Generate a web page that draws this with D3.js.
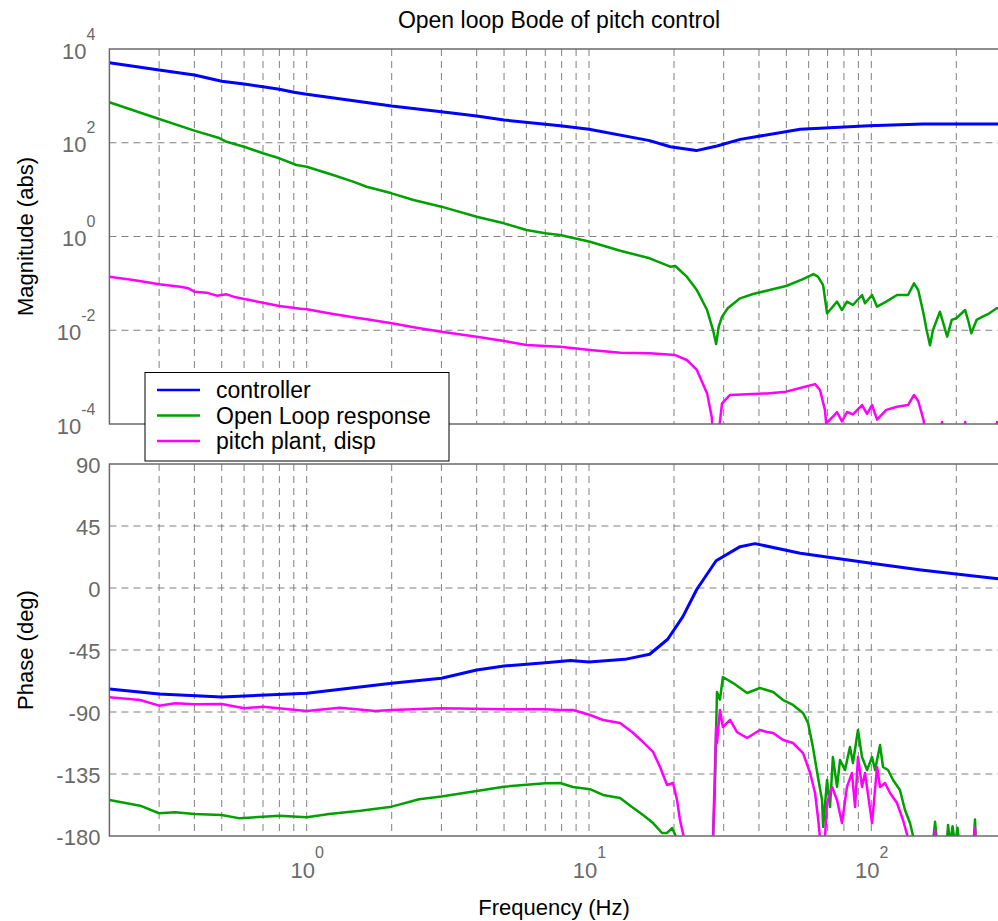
<!DOCTYPE html>
<html>
<head>
<meta charset="utf-8">
<script src="https://d3js.org/d3.v7.min.js"></script>
<style>
  body { margin: 0; background: #fff; }
  text { font-family: "Liberation Sans", Arial, sans-serif; }
</style>
</head>
<body>
<svg id="vis"></svg>
<script>
// values, [frequency Hz, value]
var ctrlMag = [[0.2,5100],[0.3,3560],[0.4,2790],[0.5,2050],[0.6,1790],[0.7,1570],[0.8,1380],[0.9,1190],[1,1080],
  [2,608],[3,460],[4,372],[5,306],[7,247],[7.9,231],[10,194],[16.4,111],[19.4,82],[24,68],[28.4,85],[34.3,118],
  [56,194],[98,231],[153,251],[300,252]];

var olMag = [[0.2,730],[0.3,321],[0.4,181],[0.486,128],[0.52,105],[0.6,82],[0.7,59.6],[0.8,46.6],[0.92,33.5],[1,30.8],
  [1.24,20.5],[1.46,14.8],[1.63,11.5],[2,8.34],[2.39,6.0],[3,4.33],[4,2.64],[5,1.91],[6,1.38],[7,1.17],[7.89,1.08],
  [10.08,0.775],[12.9,0.498],[16.4,0.343],[19.4,0.227],[20.2,0.235],[22.2,0.139],[24.1,0.072],[26.2,0.027],[27.5,0.0101],
  [28.2,0.0051],[28.8,0.0119],[29.6,0.0195],[31,0.0294],[34.3,0.048],[38.1,0.0593],[43.6,0.072],[49.9,0.088],[57,0.122],
  [62.4,0.158],[64.7,0.139],[67.5,0.092],[69.7,0.023],[71.4,0.027],[75.6,0.0407],[78.7,0.027],[82,0.0407],[86.1,0.0346],
  [92.7,0.0565],[95,0.0376],[100.6,0.0565],[104.8,0.0318],[113,0.0407],[123.3,0.0565],[134.9,0.0565],[141.7,0.1],
  [146.6,0.072],[153,0.023],[157,0.0101],[161.4,0.0048],[165.4,0.0101],[175,0.0249],[185.7,0.0073],[192.7,0.0166],
  [200,0.018],[215,0.027],[221,0.0152],[226,0.0086],[236,0.0166],[248,0.0195],[262,0.023],[278,0.0294],[300,0.03]];

var plantMag = [[0.2,0.139],[0.243,0.118],[0.3,0.0955],[0.356,0.0849],[0.381,0.0784],[0.4,0.0665],[0.442,0.0634],
  [0.48,0.0547],[0.52,0.0584],[0.55,0.052],[0.6,0.0464],[0.7,0.0387],[0.8,0.0329],[0.95,0.0288],[1,0.028],[1.24,0.0222],
  [1.46,0.0189],[1.63,0.0171],[2,0.0141],[2.39,0.0116],[3,0.0093],[4,0.0073],[5,0.0059],[6,0.00484],[7,0.00461],
  [7.89,0.00446],[10.08,0.00379],[12.9,0.00332],[16.4,0.00322],[20.2,0.00296],[22.2,0.00232],[24.1,0.00142],[26.2,0.00045],
  [27.2,0.000143],[27.6,0.00005],[28.5,0.00005],[28.9,0.00008],[29.6,0.000277],[31.6,0.000416],[36.3,0.00043],
  [42.7,0.00045],[49.9,0.00049],[57.3,0.00061],[63.2,0.00071],[65.8,0.00053],[68.5,0.0002],[69.2,0.000103],
  [73.1,0.000143],[75.6,0.00018],[78.7,0.000113],[82,0.00018],[86.1,0.00016],[92.7,0.000254],[96.6,0.000165],
  [100.6,0.000254],[104.8,0.000124],[113,0.0002],[123.3,0.000234],[134.9,0.000254],[141.7,0.000416],[146.6,0.00031],
  [153,0.000124],[157,0.00005],[175,0.00005],[178,0.00011],[181,0.00005],[212,0.00005],[215,0.00011],[218,0.00005],
  [275,0.00005],[279,0.00011],[300,0.00005]];

var ctrlPhase = [[0.2,-73.3],[0.3,-76.9],[0.5,-79.1],[1,-76.4],[2,-69.2],[3,-65.5],[4,-59.5],[5,-56.6],[7,-54.2],
  [8.6,-52.7],[10,-53.7],[13.4,-51.8],[16.4,-48.1],[19,-37.2],[21.5,-20.8],[24.1,-0.9],[28.2,19.8],[34.3,30],[38.7,32.2],
  [56,25.2],[100,17.9],[150,13],[300,6]];

var olPhase = [[0.2,-153.9],[0.257,-158],[0.3,-163.5],[0.342,-162.8],[0.4,-164],[0.5,-164.7],[0.58,-167.2],[0.7,-166],
  [0.8,-165.3],[1,-166.4],[1.2,-164],[1.55,-161.6],[2,-158.7],[2.5,-153.3],[3,-151.4],[4,-147.3],[5,-144.2],[7,-141.8],
  [7.89,-141.5],[8.78,-144.4],[10.08,-146],[11.21,-150.2],[12.88,-152.4],[14.2,-159],[15.54,-164.8],[16.86,-170.6],
  [18.14,-177.8],[18.9,-177.8],[19.68,-174.2],[20.5,-182],[22,-200],[27,-200],[27.5,-182],[27.9,-148.8],[28.4,-75.5],
  [29.1,-81],[29.8,-64.6],[32.4,-69],[36.3,-76.2],[40.3,-72.6],[44.9,-75.5],[48.7,-81.3],[52.8,-84.9],[57.3,-90.7],
  [59.7,-98],[62.1,-115.4],[64.7,-137.2],[66.9,-153.9],[67.5,-173.5],[69.7,-139.4],[71.4,-159],[73.1,-122.7],[75.6,-144.4],
  [77.5,-124.8],[80.7,-132.1],[84,-115.4],[86.1,-127],[89.7,-103.1],[92.7,-122.7],[96.6,-132.1],[100.6,-122.7],
  [103.1,-132.1],[107.4,-114],[110,-129.9],[114.6,-132.1],[119.4,-139.4],[126.3,-146.6],[131.6,-161.1],[137.1,-170.6],
  [141.7,-183],[150,-200],[163,-200],[165.4,-185],[168.2,-169.7],[171,-185],[183,-200],[187,-172],[190,-186],[194,-173],
  [198,-186],[202,-174],[206,-190],[228,-200],[233,-168],[236,-200],[300,-200]];

var plantPhase = [[0.2,-79.3],[0.257,-81.3],[0.3,-85.4],[0.342,-83.7],[0.4,-84.4],[0.5,-84.2],[0.6,-87.3],[0.7,-86.2],
  [1,-89.3],[1.31,-86.9],[1.75,-89.3],[2,-88.5],[3,-87.3],[5,-88],[7,-88],[7.89,-88.5],[8.78,-88.5],[10.08,-92.2],
  [11.21,-95.8],[12.88,-98],[14.2,-104.5],[15.54,-111.8],[16.86,-119],[17.85,-129.9],[18.9,-143],[19.84,-141.5],
  [20.5,-153.9],[21,-168.4],[21.7,-181.4],[23,-200],[27,-200],[27.5,-181],[28.2,-100.9],[28.4,-112.5],[29.1,-88.5],
  [29.8,-100.9],[31.6,-95.8],[33.4,-104.5],[36.3,-108.9],[40.3,-103.1],[42.7,-104.5],[44.9,-105.2],[48.7,-110.3],
  [52.8,-112.5],[57.3,-119.8],[60.7,-134.3],[63.2,-148.8],[64.7,-166.2],[65.8,-181.4],[68.5,-181.4],[69.7,-156.1],
  [72.6,-144.4],[75.6,-153.9],[78.7,-170.6],[82,-144.4],[85.4,-134.3],[87.6,-159],[89.7,-122.7],[92.7,-144.4],
  [95,-134.3],[100.6,-170.6],[104.8,-129.9],[107.4,-144.4],[111.8,-141.5],[116.5,-148.8],[123.3,-156.1],[129.5,-168.4],
  [134.9,-181.4],[140,-200],[166,-200],[168.2,-176],[170,-200],[230,-200],[233,-174],[236,-200],[300,-200]];

var seriesNames = ["controller", "Open Loop response", "pitch plant, disp"];
var seriesColors = ["#0000ff", "#00a000", "#ff00ff"];
var magTicks = [1e-4, 1e-2, 1, 1e2, 1e4];
var phaseTicks = [-180, -135, -90, -45, 0, 45, 90];
var freqTicks = [1, 10, 100];

//Canvas parameters
var width = 998;
var height = 921;
var left = 109.4, right = 1006;
var magTop = 49, magBottom = 424;
var phTop = 464, phBottom = 836;
var gridColor = "#808080";
var axisColor = "#6a6a6a";

const svg = d3.select("#vis").attr("width", width).attr("height", height);

var x = d3.scaleLog().domain([0.2, 300]).range([left, right]);
var yMag = d3.scaleLog().domain([1e-4, 1e4]).range([magBottom, magTop]);
var yPh = d3.scaleLinear().domain([-180, 90]).range([phBottom, phTop]);

//clip rects for both panels
var defs = svg.append("defs");
defs.append("clipPath").attr("id", "clipMag").append("rect")
    .attr("x", left).attr("y", magTop).attr("width", right - left).attr("height", magBottom - magTop);
defs.append("clipPath").attr("id", "clipPh").append("rect")
    .attr("x", left).attr("y", phTop).attr("width", right - left).attr("height", phBottom - phTop);

function drawPanel(yScale, top, bottom, hTicks, clipId, lines) {
    var g = svg.append("g");

    //vertical dashed grid at every decade subdivision
    var vTicks = x.ticks().filter(function(d){ return d > 0.2 && d < 300; });
    g.append("g").selectAll("line")
        .data(vTicks)
        .enter()
        .append("line")
        .attr("x1", function(d){ return x(d); })
        .attr("x2", function(d){ return x(d); })
        .attr("y1", top).attr("y2", bottom)
        .attr("stroke", gridColor)
        .attr("stroke-width", 1)
        .attr("stroke-dasharray", "7,5");

    //horizontal dashed grid
    g.append("g").selectAll("line")
        .data(hTicks.slice(1, -1))
        .enter()
        .append("line")
        .attr("x1", left).attr("x2", right)
        .attr("y1", function(d){ return yScale(d); })
        .attr("y2", function(d){ return yScale(d); })
        .attr("stroke", gridColor)
        .attr("stroke-width", 1)
        .attr("stroke-dasharray", "7,5");

    var line = d3.line()
        .x(function(d){ return x(d[0]); })
        .y(function(d){ return yScale(d[1]); });

    g.append("g").attr("clip-path", "url(#" + clipId + ")")
        .selectAll("path")
        .data(lines)
        .enter()
        .append("path")
        .attr("d", function(d){ return line(d); })
        .attr("fill", "none")
        .attr("stroke", function(d, i){ return seriesColors[i]; })
        .attr("stroke-width", function(d, i){ return i == 0 ? 3 : 2.5; })
        .attr("stroke-linejoin", "round");

    //box
    g.append("rect")
        .attr("x", left).attr("y", top)
        .attr("width", right - left).attr("height", bottom - top)
        .attr("fill", "none")
        .attr("stroke", axisColor)
        .attr("stroke-width", 1.5);
    return g;
}

drawPanel(yMag, magTop, magBottom, magTicks, "clipMag", [ctrlMag, olMag, plantMag]);
drawPanel(yPh, phTop, phBottom, phaseTicks, "clipPh", [ctrlPhase, olPhase, plantPhase]);

//Magnitude axis labels, 10 with a raised exponent
var magAxis = svg.append("g")
    .attr("transform", "translate(" + left + ",0)")
    .call(d3.axisLeft(yMag).tickValues(magTicks).tickSize(0).tickPadding(14).tickFormat(function(){ return ""; }));
magAxis.select(".domain").remove();
magAxis.attr("font-size", 22).attr("font-family", null).style("color", axisColor);
magAxis.selectAll(".tick text").attr("dy", 9).each(function(d){
    var t = d3.select(this);
    t.append("tspan").text("10");
    t.append("tspan").attr("dy", -19).attr("font-size", 16).text(Math.round(Math.log10(d)));
});

var phAxis = svg.append("g")
    .attr("transform", "translate(" + left + ",0)")
    .call(d3.axisLeft(yPh).tickValues(phaseTicks).tickSize(0).tickPadding(9).tickFormat(function(d){ return String(d); }));
phAxis.select(".domain").remove();
phAxis.attr("font-size", 22).attr("font-family", null).style("color", axisColor);
phAxis.selectAll(".tick text").attr("dy", "0.38em");

var fAxis = svg.append("g")
    .attr("transform", "translate(0," + phBottom + ")")
    .call(d3.axisBottom(x).tickValues(freqTicks).tickSize(0).tickFormat(function(){ return ""; }));
fAxis.select(".domain").remove();
fAxis.attr("font-size", 22).attr("font-family", null).style("color", axisColor);
fAxis.selectAll(".tick text").attr("y", 42).attr("dy", 0).each(function(d){
    var t = d3.select(this);
    t.append("tspan").text("10");
    t.append("tspan").attr("dy", -20).attr("font-size", 16).text(Math.round(Math.log10(d)));
});

//titles
svg.append("text")
    .attr("x", 559).attr("y", 28)
    .attr("text-anchor", "middle")
    .style("font-size", "23px")
    .text("Open loop Bode of pitch control");

svg.append("text")
    .attr("x", 554).attr("y", 915)
    .attr("text-anchor", "middle")
    .style("font-size", "22px")
    .text("Frequency (Hz)");

svg.append("text")
    .attr("transform", "translate(33," + ((magTop + magBottom) / 2) + ") rotate(-90)")
    .attr("text-anchor", "middle")
    .style("font-size", "22px")
    .text("Magnitude (abs)");

svg.append("text")
    .attr("transform", "translate(33," + ((phTop + phBottom) / 2) + ") rotate(-90)")
    .attr("text-anchor", "middle")
    .style("font-size", "22px")
    .text("Phase (deg)");

//legend on top of both panels
var legend = svg.append("g").attr("transform", "translate(145,372.5)");
legend.append("rect")
    .attr("width", 304).attr("height", 88.5)
    .attr("fill", "#fff").attr("stroke", "#000").attr("stroke-width", 1);
var entry = legend.selectAll("g.entry")
    .data(seriesNames)
    .enter()
    .append("g")
    .attr("class", "entry")
    .attr("transform", function(d, i){ return "translate(0," + (17.5 + i * 25.5) + ")"; });
entry.append("line")
    .attr("x1", 12).attr("x2", 55)
    .attr("stroke", function(d, i){ return seriesColors[i]; })
    .attr("stroke-width", 2.5);
entry.append("text")
    .attr("x", 71).attr("dy", 8)
    .style("font-size", "23px")
    .text(function(d){ return d; });
</script>
</body>
</html>
